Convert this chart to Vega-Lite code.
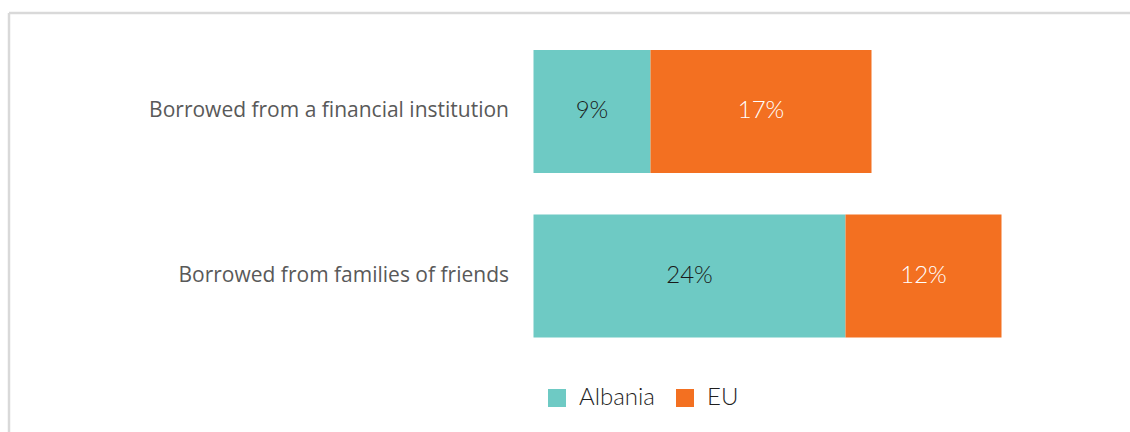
{
  "$schema": "https://vega.github.io/schema/vega-lite/v6.json",
  "width": 1121,
  "height": 419,
  "autosize": {"type": "none"},
  "padding": {"left": 9, "top": 13, "right": 0, "bottom": 0},
  "background": "white",
  "config": {"view": {"stroke": null}},
  "data": {"values": [
    {"cat": "Borrowed from a financial institution", "group": "Albania", "value": 9},
    {"cat": "Borrowed from a financial institution", "group": "EU", "value": 17},
    {"cat": "Borrowed from families of friends", "group": "Albania", "value": 24},
    {"cat": "Borrowed from families of friends", "group": "EU", "value": 12}
  ]},
  "layer": [
    {
      "transform": [
        {"stack": "value", "groupby": ["cat"], "sort": [{"field": "group", "order": "ascending"}], "as": ["x0", "x1"]},
        {"calculate": "(datum.x0 + datum.x1) / 2", "as": "mid"},
        {"calculate": "datum.value + '%'", "as": "label"}
      ],
      "encoding": {
        "y": {
          "field": "cat", "type": "nominal", "sort": null,
          "scale": {"range": [37, 324.5], "paddingInner": 0.2523, "paddingOuter": 0},
          "axis": {"title": null, "domain": false, "ticks": false, "offset": -524.5, "labelPadding": 25,
                   "labelFont": "Open Sans", "labelFontSize": 21, "labelColor": "#595959", "labelLimit": 600}
        }
      },
      "layer": [
        {
          "mark": {"type": "bar"},
          "encoding": {
            "x": {"field": "x0", "type": "quantitative", "scale": {"domain": [0, 36], "range": [524.5, 992.5], "nice": false, "zero": false}, "axis": null},
            "x2": {"field": "x1"},
            "color": {"field": "group", "type": "nominal",
              "scale": {"domain": ["Albania", "EU"], "range": ["#6ecac4", "#f37021"]},
              "legend": {"title": null, "orient": "none", "legendX": 536, "legendY": 373, "direction": "horizontal",
                "symbolType": "square", "symbolSize": 324, "symbolStrokeWidth": 0, "labelFont": "Lato", "labelFontSize": 24,
                "labelFontWeight": 300, "labelColor": "#1f1f1f", "labelOffset": 10, "columnPadding": 18, "padding": 0}}
          }
        },
        {
          "mark": {"type": "text", "font": "Lato", "fontSize": 24, "fontWeight": 300, "baseline": "middle", "align": "center"},
          "encoding": {
            "x": {"field": "mid", "type": "quantitative"},
            "text": {"field": "label"},
            "color": {"condition": {"test": "datum.group === 'EU'", "value": "white"}, "value": "#1a1a1a"}
          }
        }
      ]
    },
    {
      "data": {"values": [{"v": 1}]},
      "mark": {"type": "rule", "color": "#d9d9d9", "strokeWidth": 2.5},
      "encoding": {"y": {"field": "v", "type": "quantitative", "scale": {"domain": [0, 1]}, "axis": null}}
    },
    {
      "data": {"values": [{"v": 0}]},
      "mark": {"type": "rule", "color": "#d9d9d9", "strokeWidth": 2.5},
      "encoding": {"x": {"field": "v", "type": "quantitative", "scale": {"domain": [0, 1]}, "axis": null}}
    }
  ],
  "resolve": {"scale": {"x": "independent", "y": "independent"}}
}
